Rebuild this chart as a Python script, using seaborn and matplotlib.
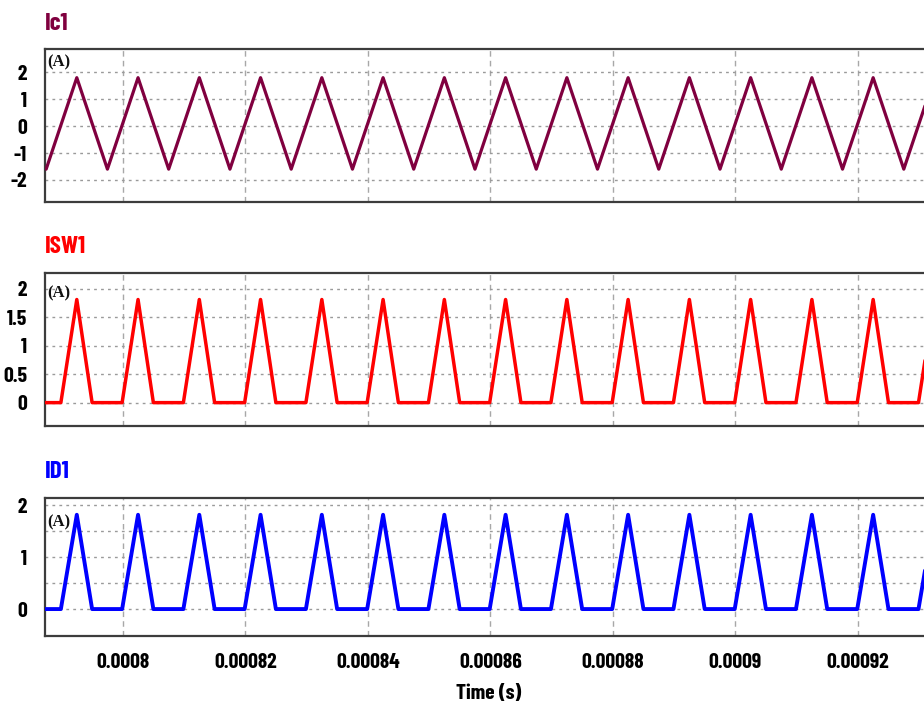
import numpy as np
import matplotlib
matplotlib.use("Agg")
import matplotlib.pyplot as plt
import matplotlib.ticker as mticker
import seaborn as sns

# ---------------- data (times in microseconds, currents in A) ----------------
ic1_t_us = [787.5, 792.5, 797.5, 802.5, 807.5, 812.5, 817.5, 822.5, 827.5, 832.5,
            837.5, 842.5, 847.5, 852.5, 857.5, 862.5, 867.5, 872.5, 877.5, 882.5,
            887.5, 892.5, 897.5, 902.5, 907.5, 912.5, 917.5, 922.5, 927.5, 932.5]
ic1_vals = [-1.6, 1.8, -1.6, 1.8, -1.6, 1.8, -1.6, 1.8, -1.6, 1.8,
            -1.6, 1.8, -1.6, 1.8, -1.6, 1.8, -1.6, 1.8, -1.6, 1.8,
            -1.6, 1.8, -1.6, 1.8, -1.6, 1.8, -1.6, 1.8, -1.6, 1.8]

pulse_t_us = [787.0,
              789.9, 792.5, 795.0,
              799.9, 802.5, 805.0,
              809.9, 812.5, 815.0,
              819.9, 822.5, 825.0,
              829.9, 832.5, 835.0,
              839.9, 842.5, 845.0,
              849.9, 852.5, 855.0,
              859.9, 862.5, 865.0,
              869.9, 872.5, 875.0,
              879.9, 882.5, 885.0,
              889.9, 892.5, 895.0,
              899.9, 902.5, 905.0,
              909.9, 912.5, 915.0,
              919.9, 922.5, 925.0,
              929.9, 932.5, 935.0]
isw1_vals = [0.0,
             0.0, 1.81, 0.0,
             0.0, 1.81, 0.0,
             0.0, 1.81, 0.0,
             0.0, 1.81, 0.0,
             0.0, 1.81, 0.0,
             0.0, 1.81, 0.0,
             0.0, 1.81, 0.0,
             0.0, 1.81, 0.0,
             0.0, 1.81, 0.0,
             0.0, 1.81, 0.0,
             0.0, 1.81, 0.0,
             0.0, 1.81, 0.0,
             0.0, 1.81, 0.0,
             0.0, 1.81, 0.0,
             0.0, 1.81, 0.0]
id1_vals = [0.0,
            0.0, 1.82, 0.0,
            0.0, 1.82, 0.0,
            0.0, 1.82, 0.0,
            0.0, 1.82, 0.0,
            0.0, 1.82, 0.0,
            0.0, 1.82, 0.0,
            0.0, 1.82, 0.0,
            0.0, 1.82, 0.0,
            0.0, 1.82, 0.0,
            0.0, 1.82, 0.0,
            0.0, 1.82, 0.0,
            0.0, 1.82, 0.0,
            0.0, 1.82, 0.0,
            0.0, 1.82, 0.0,
            0.0, 1.82, 0.0]

titles = ["Ic1", "ISW1", "ID1"]
xtick_vals = [0.0008, 0.00082, 0.00084, 0.00086, 0.00088, 0.0009, 0.00092]
xtick_labels = ["0.0008", "0.00082", "0.00084", "0.00086", "0.00088", "0.0009", "0.00092"]
ic1_yticks = [-2, -1, 0, 1, 2]
ic1_ylabels = ["-2", "-1", "0", "1", "2"]
isw1_yticks = [0, 0.5, 1, 1.5, 2]
isw1_ylabels = ["0", "0.5", "1", "1.5", "2"]
id1_yticks = [0, 1, 2]
id1_ylabels = ["0", "1", "2"]
id1_minor = [0.5, 1.5]
x_label = "Time (s)"
unit_label = "(A)"

# ---------------- style ----------------
sns.set_style("white")
plt.rcParams["font.family"] = ["Barlow Condensed", "DejaVu Sans"]
plt.rcParams["axes.unicode_minus"] = False

W, H = 924, 708
fig = plt.figure(figsize=(W / 100, H / 100), dpi=100)

def fx(px):
    return px / W

def fy(py):
    return 1 - py / H

left_px = 45
# (top_px, bottom_px)
panels = [(49.3, 201.7), (273.3, 426.0), (497.7, 636.0)]
axes = []
for top, bot in panels:
    ax = fig.add_axes([fx(left_px), fy(bot), 1 - fx(left_px), (bot - top) / H])
    axes.append(ax)

colors = ["#80003f", "#ff0000", "#0000ff"]
lws = [2.3, 2.5, 2.8]
series = [(ic1_t_us, ic1_vals), (pulse_t_us, isw1_vals), (pulse_t_us, id1_vals)]
ylims = [(-2.81, 2.855), (-0.41, 2.27), (-0.52, 2.15)]
xlim = (787.31e-6, 930.8e-6)
unit_pos = [0.915, 0.87, 0.82]

tick_font = dict(fontsize=15.5, fontweight="bold")

for i, ax in enumerate(axes):
    t = np.array(series[i][0]) * 1e-6
    v = np.array(series[i][1])
    sns.lineplot(x=t, y=v, ax=ax, color=colors[i], linewidth=lws[i],
                 estimator=None, sort=False, zorder=3)
    ax.set_xlim(*xlim)
    ax.set_ylim(*ylims[i])
    ax.set_xticks(xtick_vals)
    if i == 2:
        ax.set_xticklabels(xtick_labels, **tick_font)
    else:
        ax.set_xticklabels([])
    if i == 0:
        ax.set_yticks(ic1_yticks)
        ax.set_yticklabels(ic1_ylabels, **tick_font)
    elif i == 1:
        ax.set_yticks(isw1_yticks)
        ax.set_yticklabels(isw1_ylabels, **tick_font)
    else:
        ax.set_yticks(id1_yticks)
        ax.set_yticklabels(id1_ylabels, **tick_font)
        ax.yaxis.set_minor_locator(mticker.FixedLocator(id1_minor))
    ax.tick_params(axis="both", which="both", length=0)
    ax.tick_params(axis="y", pad=13, colors="black")
    ax.tick_params(axis="x", pad=12, colors="black")
    ax.yaxis.grid(True, which="both", linestyle=(0, (2, 3)), color="#9a9a9a", linewidth=1.0)
    ax.xaxis.grid(True, which="major", linestyle=(0, (4, 3)), color="#a8a8a8", linewidth=1.0)
    ax.set_axisbelow(True)
    for s in ["top", "bottom", "left"]:
        ax.spines[s].set_visible(True)
        ax.spines[s].set_color("#3c3c3c")
        ax.spines[s].set_linewidth(1.6)
    ax.spines["right"].set_visible(False)
    ax.set_xlabel("")
    ax.set_ylabel("")
    ax.text(0.002, unit_pos[i], unit_label, transform=ax.transAxes, ha="left", va="center",
            fontsize=12, fontweight="bold", family=["Liberation Serif", "DejaVu Serif"],
            color="#111111", zorder=5)

# panel titles
title_base = [30, 253.3, 478.3]
for i, name in enumerate(titles):
    fig.text(fx(45), fy(title_base[i]), name, ha="left", va="baseline",
             fontsize=18, fontweight="bold", color=colors[i])

fig.text(fx(489), fy(699), x_label, ha="center", va="baseline",
         fontsize=15.5, fontweight="bold", color="black")

fig.savefig("out.png", dpi=100)
